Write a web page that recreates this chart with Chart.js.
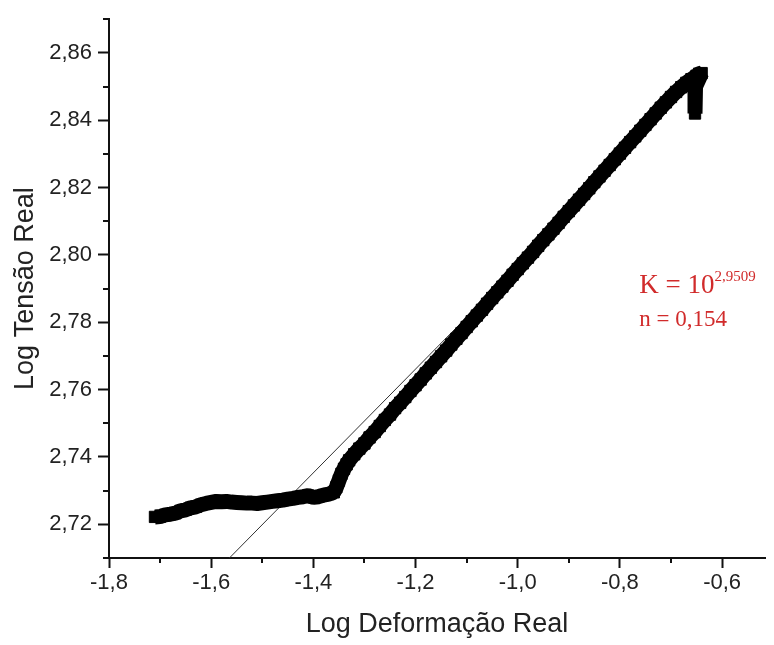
<!DOCTYPE html>
<html>
<head>
<meta charset="utf-8">
<script src="https://cdn.jsdelivr.net/npm/chart.js@4/dist/chart.umd.min.js"></script>
<style>
  html, body { margin: 0; padding: 0; background: #fff; }
  #wrap { width: 774px; height: 645px; position: relative; }
</style>
</head>
<body>
<div id="wrap"><canvas id="c" width="774" height="645"></canvas></div>
<script>
// ---- data ----
const strainX = [
  -1.710, -1.700, -1.690, -1.680, -1.670, -1.660, -1.650, -1.640, -1.630, -1.620,
  -1.610, -1.600, -1.590, -1.580, -1.570, -1.560, -1.550, -1.540, -1.530, -1.520,
  -1.510, -1.500, -1.490, -1.480, -1.470, -1.460, -1.450, -1.440, -1.430, -1.420,
  -1.410, -1.400, -1.390, -1.380, -1.370, -1.360, -1.355, -1.350, -1.345, -1.340,
  -1.335, -1.330, -1.320, -1.310, -1.300, -1.290, -1.280, -1.270, -1.260, -1.250,
  -1.240, -1.230, -1.220, -1.210, -1.200, -1.190, -1.180, -1.170, -1.160, -1.150,
  -1.140, -1.130, -1.120, -1.110, -1.100, -1.090, -1.080, -1.070, -1.060, -1.050,
  -1.040, -1.030, -1.020, -1.010, -1.000, -0.990, -0.980, -0.970, -0.960, -0.950,
  -0.940, -0.930, -0.920, -0.910, -0.900, -0.890, -0.880, -0.870, -0.860, -0.850,
  -0.840, -0.830, -0.820, -0.810, -0.800, -0.790, -0.780, -0.770, -0.760, -0.750,
  -0.740, -0.730, -0.720, -0.710, -0.700, -0.690, -0.680, -0.670, -0.660, -0.650,
  -0.645, -0.640, -0.652, -0.653, -0.653
];
const stressY = [
  2.7222, 2.7223, 2.7228, 2.7230, 2.7233, 2.7240, 2.7243, 2.7249, 2.7252, 2.7258,
  2.7262, 2.7265, 2.7268, 2.7267, 2.7268, 2.7266, 2.7265, 2.7264, 2.7263, 2.7263,
  2.7262, 2.7264, 2.7266, 2.7268, 2.7270, 2.7272, 2.7275, 2.7277, 2.7280, 2.7282,
  2.7285, 2.7280, 2.7282, 2.7287, 2.7290, 2.7295, 2.7310, 2.7330, 2.7350, 2.7365,
  2.7378, 2.7390, 2.7408, 2.7425, 2.7440, 2.7458, 2.7474, 2.7492, 2.7510, 2.7526,
  2.7545, 2.7561, 2.7578, 2.7596, 2.7613, 2.7630, 2.7648, 2.7665, 2.7682, 2.7699,
  2.7716, 2.7734, 2.7751, 2.7768, 2.7786, 2.7803, 2.7820, 2.7837, 2.7855, 2.7872,
  2.7889, 2.7906, 2.7923, 2.7941, 2.7958, 2.7975, 2.7992, 2.8009, 2.8027, 2.8044,
  2.8061, 2.8078, 2.8095, 2.8113, 2.8130, 2.8147, 2.8164, 2.8181, 2.8198, 2.8216,
  2.8233, 2.8250, 2.8267, 2.8284, 2.8301, 2.8318, 2.8335, 2.8352, 2.8369, 2.8386,
  2.8403, 2.8420, 2.8437, 2.8453, 2.8469, 2.8484, 2.8498, 2.8511, 2.8522, 2.8532,
  2.8538, 2.8540, 2.8500, 2.8460, 2.8420
];
// fitted line  log(sigma) = 2.9509 + 0.154 * log(eps)
const fitX = [-1.5643, -1.0000];
const fitY = [2.7100, 2.7969];

const majorTicksX = [-1.8, -1.6, -1.4, -1.2, -1.0, -0.8, -0.6];
const minorTicksX = [-1.7, -1.5, -1.3, -1.1, -0.9, -0.7];
const majorTicksY = [2.72, 2.74, 2.76, 2.78, 2.80, 2.82, 2.84, 2.86];
const minorTicksY = [2.71, 2.73, 2.75, 2.77, 2.79, 2.81, 2.83, 2.85, 2.87];

const labelK = 'K = 10';
const labelKExp = '2,9509';
const labelN = 'n = 0,154';
const xTitle = 'Log Deformação Real';
const yTitle = 'Log Tensão Real';

// ---- build ----
const pts = strainX.map((x, i) => ({x: x, y: stressY[i]}));
const fitPts = fitX.map((x, i) => ({x: x, y: fitY[i]}));
const fmt = v => v.toFixed(v > 2 ? 2 : 1).replace('.', ',');

const minorTicks = {
  id: 'minorTicks',
  afterDraw(chart) {
    const ctx = chart.ctx;
    const xs = chart.scales.x, ys = chart.scales.y;
    ctx.save();
    ctx.strokeStyle = '#111';
    ctx.lineWidth = 2;
    ctx.beginPath();
    minorTicksX.forEach(v => {
      const px = Math.round(xs.getPixelForValue(v));
      ctx.moveTo(px, xs.top);
      ctx.lineTo(px, xs.top + 5);
    });
    minorTicksY.forEach(v => {
      const py = Math.round(ys.getPixelForValue(v));
      ctx.moveTo(ys.right, py);
      ctx.lineTo(ys.right - 6, py);
    });
    ctx.stroke();
    ctx.restore();
  }
};

const annot = {
  id: 'annot',
  afterDatasetsDraw(chart) {
    const ctx = chart.ctx;
    const xs = chart.scales.x, ys = chart.scales.y;
    ctx.save();
    ctx.fillStyle = '#d12b2b';
    ctx.textBaseline = 'alphabetic';
    ctx.textAlign = 'left';
    const x0 = xs.getPixelForValue(-0.762);
    const yK = ys.getPixelForValue(2.7886);
    const yN = ys.getPixelForValue(2.7788);
    ctx.font = '27px "Liberation Serif", "Times New Roman", serif';
    ctx.fillText(labelK, x0, yK);
    const w = ctx.measureText(labelK).width;
    ctx.font = '15px "Liberation Serif", "Times New Roman", serif';
    ctx.fillText(labelKExp, x0 + w, yK - 12);
    ctx.font = '23px "Liberation Serif", "Times New Roman", serif';
    ctx.fillText(labelN, x0, yN);
    ctx.restore();
  }
};

new Chart(document.getElementById('c'), {
  type: 'scatter',
  data: {
    datasets: [
      {
        label: 'dados',
        data: pts,
        pointStyle: 'rect',
        pointRadius: 8,
        pointBorderWidth: 1,
        pointBackgroundColor: '#000',
        pointBorderColor: '#000',
        borderColor: '#000',
        borderWidth: 15,
        borderJoinStyle: 'bevel',
        showLine: true,
        order: 1
      },
      {
        label: 'ajuste',
        type: 'line',
        data: fitPts,
        borderColor: '#333',
        borderWidth: 1,
        pointRadius: 0,
        fill: false,
        order: 2
      }
    ]
  },
  options: {
    responsive: false,
    animation: false,
    events: [],
    layout: { padding: { top: 15, right: 0, left: 0, bottom: 0 } },
    plugins: { legend: { display: false }, tooltip: { enabled: false } },
    scales: {
      x: {
        type: 'linear',
        min: -1.8,
        max: -0.516,
        afterBuildTicks: s => { s.ticks = majorTicksX.map(v => ({value: v})); },
        afterFit: s => { s.height = 87; },
        grid: { drawOnChartArea: false, drawTicks: true, tickLength: 10, tickColor: '#111', tickWidth: 2 },
        border: { display: true, color: '#111', width: 2 },
        ticks: {
          color: '#222',
          padding: 2,
          font: { family: '"Liberation Sans", Arial, sans-serif', size: 22 },
          callback: v => fmt(v),
          maxRotation: 0
        },
        title: {
          display: true,
          text: xTitle,
          color: '#222',
          font: { family: '"Liberation Sans", Arial, sans-serif', size: 27 },
          padding: { top: 0, bottom: 4 }
        }
      },
      y: {
        type: 'linear',
        min: 2.71,
        max: 2.87,
        afterBuildTicks: s => { s.ticks = majorTicksY.map(v => ({value: v})); },
        afterFit: s => { s.width = 109; },
        grid: { drawOnChartArea: false, drawTicks: true, tickLength: 11, tickColor: '#111', tickWidth: 2 },
        border: { display: true, color: '#111', width: 2 },
        ticks: {
          color: '#222',
          padding: 6,
          font: { family: '"Liberation Sans", Arial, sans-serif', size: 22 },
          callback: v => fmt(v)
        },
        title: {
          display: true,
          text: yTitle,
          color: '#222',
          font: { family: '"Liberation Sans", Arial, sans-serif', size: 27 },
          padding: { top: 9, bottom: 0 }
        }
      }
    }
  },
  plugins: [minorTicks, annot]
});
</script>
</body>
</html>
